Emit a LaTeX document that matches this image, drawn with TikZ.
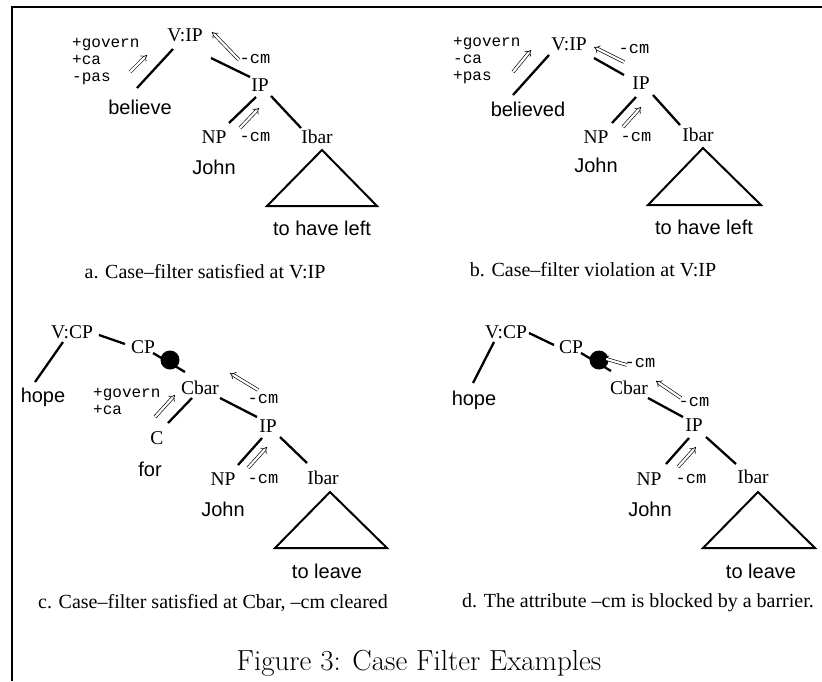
\documentclass[tikz,border=0pt]{standalone}
\usepackage{fontspec}
\newfontfamily\tms{Liberation Serif}
\newfontfamily\hv{Liberation Sans}
\newfontfamily\cour{Liberation Mono}
\usetikzlibrary{arrows.meta}
\begin{document}
\begin{tikzpicture}[x=1pt,y=-1pt,
  cat/.style={font=\tms\fontsize{19.5}{20}\selectfont, inner sep=0pt},
  word/.style={font=\hv\fontsize{20}{22}\selectfont, inner sep=0pt},
  feat/.style={font=\cour\fontsize{16}{17}\selectfont, inner sep=0pt, align=left, anchor=west},
  cmlab/.style={font=\cour\fontsize{17}{18}\selectfont, inner sep=0pt},
  subcaption/.style={font=\tms\fontsize{20}{22}\selectfont, inner sep=0pt},
  edge/.style={line width=2.3pt},
  tri/.style={line width=2pt, line join=miter},
  pass/.style={double, double distance=2.2pt, line width=0.65pt, -{Implies[scale=1.3]}},
  barrier/.style={circle, fill, minimum size=19pt, inner sep=0pt},
  frame/.style={line width=1.4pt}]
\useasboundingbox (0,0) rectangle (822,681);

% page frame
\draw[frame] (822,7) -- (12,7) -- (12,681);

% ---------- a. Case-filter satisfied at V:IP ----------
\node[cat]  (vipA)     at (185,35)  {V:IP};
\node[feat] (attrA)    at (72,62)   {+govern\\+ca\\-pas};
\node[word] (believeA) at (140,107) {believe};
\node[cmlab](cmA1)     at (255,59)  {-cm};
\node[cat]  (ipA)      at (260,85)  {IP};
\node[cat]  (npA)      at (214,137) {NP};
\node[cmlab](cmA2)     at (255,137) {-cm};
\node[cat]  (ibarA)    at (317,137) {Ibar};
\node[word] (johnA)    at (214,167) {John};
\node[word] (leftA)    at (322,228) {to have left};
\node[subcaption] (capA) at (205,272) {a. Case\textendash filter satisfied at V:IP};
\draw[edge] ([shift={(-12,14)}]vipA.center) -- ([shift={(-3,-19)}]believeA.center);
\draw[edge] ([shift={(26,23)}]vipA.center) -- ([shift={(-10,-8)}]ipA.center);
\draw[edge] ([shift={(-4,12)}]ipA.center) -- ([shift={(15,-14)}]npA.center);
\draw[edge] ([shift={(11,11)}]ipA.center) -- ([shift={(-16,-9)}]ibarA.center);
\draw[tri] ([shift={(5,13)}]ibarA.center) -- ++(-55,56) -- ++(110,0) -- cycle;
\draw[pass] ([shift={(-10,-35)}]believeA.center) -- ([shift={(-38,20)}]vipA.center);
\draw[pass] ([shift={(-16,1)}]cmA1.center) -- ([shift={(27,-3)}]vipA.center);
\draw[pass] ([shift={(26,-9)}]npA.center) -- ([shift={(-1,23)}]ipA.center);

% ---------- b. Case-filter violation at V:IP ----------
\node[cat]  (vipB)      at (569,44)  {V:IP};
\node[feat] (attrB)     at (453,61)  {+govern\\-ca\\+pas};
\node[word] (believedB) at (528,109) {believed};
\node[cmlab](cmB1)      at (634,49)  {-cm};
\node[cat]  (ipB)       at (641,83)  {IP};
\node[cat]  (npB)       at (596,137) {NP};
\node[cmlab](cmB2)      at (636,137) {-cm};
\node[cat]  (ibarB)     at (698,135) {Ibar};
\node[word] (johnB)     at (596,165) {John};
\node[word] (leftB)     at (704,227) {to have left};
\node[subcaption] (capB) at (593,270) {b. Case\textendash filter violation at V:IP};
\draw[edge] ([shift={(-20,11)}]vipB.center) -- ([shift={(-15,-14)}]believedB.center);
\draw[edge] ([shift={(25,14)}]vipB.center) -- ([shift={(-17,-8)}]ipB.center);
\draw[edge] ([shift={(-5,14)}]ipB.center) -- ([shift={(16,-14)}]npB.center);
\draw[edge] ([shift={(12,12)}]ipB.center) -- ([shift={(-18,-10)}]ibarB.center);
\draw[tri] ([shift={(5,13)}]ibarB.center) -- ++(-55,57) -- ++(113,0) -- cycle;
\draw[pass] ([shift={(-15,-37)}]believedB.center) -- ([shift={(-38,6)}]vipB.center);
\draw[pass] ([shift={(-10,13)}]cmB1.center) -- ([shift={(25,3)}]vipB.center);
\draw[pass] ([shift={(27,-10)}]npB.center) -- ([shift={(0,24)}]ipB.center);

% ---------- c. Case-filter satisfied at Cbar ----------
\node[cat]  (vcpC)  at (72,332)  {V:CP};
\node[word] (hopeC) at (43,397)  {hope};
\node[cat]  (cpC)   at (143,347) {CP};
\node[cat]  (cbarC) at (200,388) {Cbar};
\node[feat] (attrC) at (93,401)  {+govern\\+ca};
\node[cat]  (cC)    at (157,438) {C};
\node[word] (forC)  at (150,469) {for};
\node[cmlab](cmC1)  at (263,399) {-cm};
\node[cat]  (ipC)   at (268,426) {IP};
\node[cat]  (npC)   at (223,479) {NP};
\node[cmlab](cmC2)  at (263,479) {-cm};
\node[cat]  (ibarC) at (323,478) {Ibar};
\node[word] (johnC) at (223,509) {John};
\node[word] (leaveC)at (327,571) {to leave};
\node[subcaption] (capC) at (213,603) {c. Case\textendash filter satisfied at Cbar, \textendash cm cleared};
\draw[edge] ([shift={(-9,10)}]vcpC.center) -- ([shift={(-8,-15)}]hopeC.center);
\draw[edge] ([shift={(27,3)}]vcpC.center) -- ([shift={(-18,-3)}]cpC.center);
\draw[edge] ([shift={(10,6)}]cpC.center) -- ([shift={(-15,-16)}]cbarC.center);
\node[barrier] (blobC) at (170,360) {};
\draw[edge] ([shift={(-8,10)}]cbarC.center) -- ([shift={(11,-15)}]cC.center);
\draw[edge] ([shift={(20,10)}]cbarC.center) -- ([shift={(-11,-9)}]ipC.center);
\draw[edge] ([shift={(-6,12)}]ipC.center) -- ([shift={(15,-14)}]npC.center);
\draw[edge] ([shift={(12,11)}]ipC.center) -- ([shift={(-16,-15)}]ibarC.center);
\draw[tri] ([shift={(7,14)}]ibarC.center) -- ++(-55,56) -- ++(112,0) -- cycle;
\draw[pass] ([shift={(-2,-21)}]cC.center) -- ([shift={(-25,7)}]cbarC.center);
\draw[pass] ([shift={(-5,-9)}]cmC1.center) -- ([shift={(30,-15)}]cbarC.center);
\draw[pass] ([shift={(25,-11)}]npC.center) -- ([shift={(-1,21)}]ipC.center);

% ---------- d. -cm blocked by a barrier ----------
\node[cat]  (vcpD)  at (506,332) {V:CP};
\node[word] (hopeD) at (474,400) {hope};
\node[cat]  (cpD)   at (571,347) {CP};
\node[barrier] (blobD) at (599,360) {};
\node[cmlab](cmD0)  at (640,363) {-cm};
\node[cat]  (cbarD) at (629,388) {Cbar};
\node[cmlab](cmD1)  at (694,402) {-cm};
\node[cat]  (ipD)   at (694,425) {IP};
\node[cat]  (npD)   at (649,479) {NP};
\node[cmlab](cmD2)  at (691,479) {-cm};
\node[cat]  (ibarD) at (753,477) {Ibar};
\node[word] (johnD) at (650,509) {John};
\node[word] (leaveD)at (761,571) {to leave};
\node[subcaption] (capD) at (638,603) {d. The attribute \textendash cm is blocked by a barrier.};
\draw[edge] ([shift={(-12,10)}]vcpD.center) -- ([shift={(-1,-17)}]hopeD.center);
\draw[edge] ([shift={(23,1)}]vcpD.center) -- ([shift={(-17,-2)}]cpD.center);
\draw[edge] ([shift={(10,6)}]cpD.center) -- ([shift={(12,11)}]blobD.center);
\draw[edge] ([shift={(19,10)}]cbarD.center) -- ([shift={(-11,-8)}]ipD.center);
\draw[edge] ([shift={(-5,13)}]ipD.center) -- ([shift={(17,-15)}]npD.center);
\draw[edge] ([shift={(12,12)}]ipD.center) -- ([shift={(-17,-13)}]ibarD.center);
\draw[tri] ([shift={(5,15)}]ibarD.center) -- ++(-55,56) -- ++(112,0) -- cycle;
\draw[pass] ([shift={(-13,2)}]cmD0.center) -- ([shift={(4,-2)}]blobD.center);
\draw[pass] ([shift={(-13,-4)}]cmD1.center) -- ([shift={(27,-7)}]cbarD.center);
\draw[pass] ([shift={(29,-12)}]npD.center) -- ([shift={(2,22)}]ipD.center);

% ---------- figure caption ----------
\node[font=\fontsize{29}{33}\selectfont, inner sep=0pt] (figcap) at (419,663) {Figure 3: Case Filter Examples};
\end{tikzpicture}
\end{document}
